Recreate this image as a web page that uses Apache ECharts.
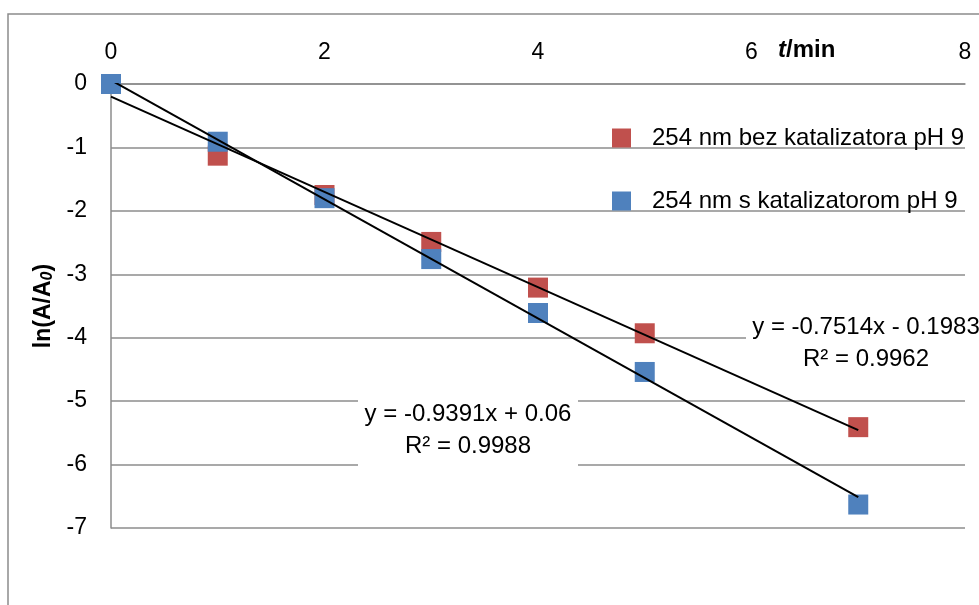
<!DOCTYPE html>
<html>
<head>
<meta charset="utf-8">
<script src="https://cdn.jsdelivr.net/npm/echarts@6/dist/echarts.min.js"></script>
<style>
html,body{margin:0;padding:0;background:#fff;}
#chart{width:979px;height:605px;}
</style>
</head>
<body>
<div id="chart"></div>
<script>
// ---- data ----
var timeMin = [0, 1, 2, 3, 4, 5, 7];
var lnBez = [0, -1.13, -1.75, -2.49, -3.21, -3.93, -5.41];
var lnKat = [0, -0.91, -1.80, -2.76, -3.61, -4.54, -6.63];
var seriesNames = ['254 nm bez katalizatora pH 9', '254 nm s katalizatorom pH 9'];
var trendSlope = [-0.7514, -0.9391];
var trendIntercept = [-0.1983, 0.06];
var trendR2 = ['0.9962', '0.9988'];
var trendRange = [0, 7];
var xTicks = [0, 2, 4, 6, 8];
var yTicks = [-7, -6, -5, -4, -3, -2, -1, 0];

var FONT = 'Liberation Sans, Arial, sans-serif';
var colors = ['#C0504D', '#4F81BD'];

function pairs(xs, ys) { return xs.map(function (x, i) { return [x, ys[i]]; }); }
function trendData(k) {
  return trendRange.map(function (x) { return [x, trendSlope[k] * x + trendIntercept[k]]; });
}
function eqText(k) {
  var b = trendIntercept[k];
  var sign = b < 0 ? ' - ' : ' + ';
  return 'y = ' + trendSlope[k] + 'x' + sign + Math.abs(b) + '\nR\u00B2 = ' + trendR2[k];
}

var chart = echarts.init(document.getElementById('chart'), null, { renderer: 'canvas' });
var option = {
  animation: false,
  backgroundColor: '#fff',
  grid: { left: 111, right: 14, top: 84, bottom: 77, containLabel: false },
  xAxis: {
    type: 'value', position: 'top', min: xTicks[0], max: xTicks[xTicks.length - 1], interval: 2,
    axisLine: { show: true, onZero: false, lineStyle: { color: '#8c8c8c', width: 1.5 } },
    axisTick: { show: false },
    splitLine: { show: false },
    axisLabel: { color: '#000', fontSize: 23, fontFamily: FONT, margin: 20 }
  },
  yAxis: {
    type: 'value', min: yTicks[0], max: yTicks[yTicks.length - 1], interval: 1,
    axisLine: { show: true, onZero: false, lineStyle: { color: '#8c8c8c', width: 1.5 } },
    axisTick: { show: false },
    splitLine: { show: true, lineStyle: { color: '#8c8c8c', width: 1.5 } },
    axisLabel: { color: '#000', fontSize: 23, fontFamily: FONT, margin: 24 },
    name: '{b|ln(A/A}{s|0}{b|)}',
    nameLocation: 'middle', nameGap: 53, nameRotate: 90,
    nameTextStyle: {
      rich: {
        b: { fontSize: 23, fontWeight: 'bold', fontFamily: FONT, color: '#000' },
        s: { fontSize: 16, fontWeight: 'bold', fontStyle: 'italic', fontFamily: FONT, color: '#000', verticalAlign: 'bottom', padding: [8, 0, 0, 0] }
      }
    }
  },
  legend: {
    data: seriesNames,
    orient: 'vertical', left: 612, top: 126, itemGap: 39, padding: 0,
    itemWidth: 19, itemHeight: 19, icon: 'rect',
    textStyle: { fontSize: 24, fontFamily: FONT, color: '#000', padding: [0, 0, 0, 16] }
  },
  series: [
    {
      name: seriesNames[0], type: 'scatter', symbol: 'rect', symbolSize: 20,
      itemStyle: { color: colors[0], opacity: 1 }, data: pairs(timeMin, lnBez), z: 2
    },
    {
      name: seriesNames[1], type: 'scatter', symbol: 'rect', symbolSize: 20,
      itemStyle: { color: colors[1], opacity: 1 }, data: pairs(timeMin, lnKat), z: 3
    },
    {
      name: 'trend0', type: 'line', data: trendData(0), showSymbol: false, symbol: 'none',
      lineStyle: { color: '#000', width: 2 }, z: 5, silent: true
    },
    {
      name: 'trend1', type: 'line', data: trendData(1), showSymbol: false, symbol: 'none',
      lineStyle: { color: '#000', width: 2 }, z: 5, silent: true
    }
  ],
  graphic: [
    {
      type: 'rect', shape: { x: 8, y: 14, width: 1200, height: 1200 },
      style: { fill: 'none', stroke: '#8c8c8c', lineWidth: 1.5 }, z: 0, silent: true
    },
    {
      type: 'text', left: 778, top: 38, z: 10,
      style: {
        text: '{t|t}{m|/min}',
        rich: {
          t: { fontSize: 24, fontWeight: 'bold', fontStyle: 'italic', fontFamily: FONT, fill: '#000' },
          m: { fontSize: 24, fontWeight: 'bold', fontFamily: FONT, fill: '#000' }
        }
      }
    },
    {
      type: 'rect', shape: { x: 358, y: 394, width: 220, height: 76 },
      style: { fill: '#fff' }, z: 8, silent: true
    },
    {
      type: 'text', x: 468, y: 430, z: 10,
      style: {
        text: eqText(1), fill: '#000', font: '24px ' + FONT,
        align: 'center', verticalAlign: 'middle', lineHeight: 32
      }
    },
    {
      type: 'rect', shape: { x: 746, y: 309, width: 240, height: 66 },
      style: { fill: '#fff' }, z: 8, silent: true
    },
    {
      type: 'text', x: 866, y: 343, z: 10,
      style: {
        text: eqText(0), fill: '#000', font: '24px ' + FONT,
        align: 'center', verticalAlign: 'middle', lineHeight: 32
      }
    }
  ]
};
chart.setOption(option);
</script>
</body>
</html>
